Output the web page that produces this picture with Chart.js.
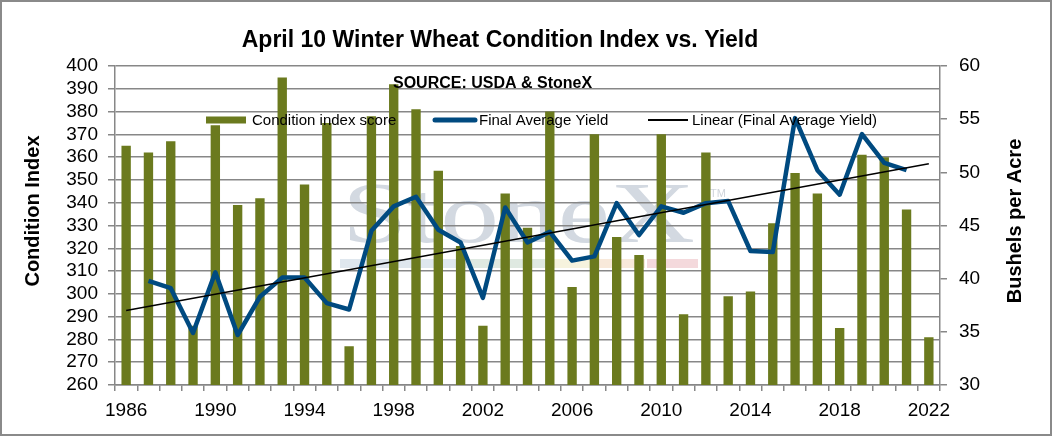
<!DOCTYPE html>
<html>
<head>
<meta charset="utf-8">
<title>April 10 Winter Wheat Condition Index vs. Yield</title>
<script src="https://cdn.jsdelivr.net/npm/chart.js@4.4.0/dist/chart.umd.min.js"></script>
<style>
    html, body { margin: 0; padding: 0; background: #fff; }
    canvas { display: block; }
</style>
</head>
<body>
<canvas id="graficoTrigo" width="1052" height="436"></canvas>
<script>
// Datos
const years = ['1986','1987','1988','1989','1990','1991','1992','1993','1994','1995',
               '1996','1997','1998','1999','2000','2001','2002','2003','2004','2005',
               '2006','2007','2008','2009','2010','2011','2012','2013','2014','2015',
               '2016','2017','2018','2019','2020','2021','2022'];

const conditionIndex = [365, 362, 367, 286, 374, 339, 342, 395, 348, 375,
                        277, 378, 392, 381, 354, 321, 286, 344, 329, 380,
                        303, 370, 325, 317, 370, 291, 362, 299, 301, 331,
                        353, 344, 285, 361, 360, 337, 281];

const yieldValues = [null, 39.8, 39.1, 34.9, 40.6, 34.7, 38.3, 40.1, 40.1, 37.7,
                     37.1, 44.5, 46.8, 47.7, 44.6, 43.4, 38.2, 46.7, 43.4, 44.4,
                     41.7, 42.1, 47.1, 44.1, 46.8, 46.2, 47.1, 47.3, 42.6, 42.5,
                     55.1, 50.2, 47.9, 53.6, 50.9, 50.2, null];

// extremos de la linea de tendencia (1986 y 2022)
const trendStart = 37.0;
const trendEnd = 50.8;

const indexTicks = { min: 260, max: 400, step: 10 };
const yieldTicks = { min: 30, max: 60, step: 5 };

const FUENTE = "'Liberation Sans', Arial, sans-serif";
const GRIS = '#878787';
const OLIVA = '#6b7a1e';
const AZUL = '#004a80';

// linea de tendencia: solo los dos extremos, el resto se une con spanGaps
const trendData = years.map(function(y, i) {
    if (i === 0) return trendStart;
    if (i === years.length - 1) return trendEnd;
    return null;
});

// Marca de agua "StoneX" y franja de colores, debajo de la cuadricula
const marcaAgua = {
    id: 'marcaAgua',
    beforeDraw(chart) {
        const ctx = chart.ctx;
        ctx.save();
        ctx.fillStyle = '#fff';
        ctx.fillRect(0, 0, chart.width, chart.height);

        ctx.font = "86px 'Liberation Serif', 'DejaVu Serif', serif";
        ctx.textBaseline = 'alphabetic';
        ctx.textAlign = 'left';
        const ancho = ctx.measureText('StoneX').width;
        ctx.translate(342, 242);
        ctx.scale(353 / ancho, 1);
        ctx.fillStyle = '#d3d9e1';
        ctx.fillText('StoneX', 0, 0);
        ctx.restore();

        ctx.save();
        ctx.font = "11px " + FUENTE;
        ctx.fillStyle = '#d0d5dc';
        ctx.fillText('TM', 710, 197);

        const franja = [
            [340, 470, '#dfe7ee'],
            [470, 546, '#dfe9e1'],
            [546, 594, '#f6f3de'],
            [594, 645, '#f8e9da'],
            [647, 698, '#f4d9dc']
        ];
        franja.forEach(function(f) {
            ctx.fillStyle = f[2];
            ctx.fillRect(f[0], 259, f[1] - f[0], 9);
        });
        ctx.restore();
    }
};

// Titulos, fuente, leyenda y marco
const textos = {
    id: 'textos',
    afterDraw(chart) {
        const ctx = chart.ctx;
        ctx.save();
        ctx.fillStyle = '#000';
        ctx.textBaseline = 'alphabetic';

        // titulo
        ctx.font = "bold 23px " + FUENTE;
        ctx.textAlign = 'center';
        ctx.fillText('April 10 Winter Wheat Condition Index vs. Yield', 500, 47);

        // fuente
        ctx.font = "bold 16px " + FUENTE;
        ctx.textAlign = 'left';
        ctx.fillText('SOURCE: USDA & StoneX', 393, 88);

        // leyenda
        ctx.font = "15px " + FUENTE;
        ctx.textBaseline = 'middle';
        ctx.fillStyle = OLIVA;
        ctx.fillRect(206, 116.5, 40, 7);
        ctx.fillStyle = '#000';
        ctx.fillText('Condition index score', 252, 121);

        ctx.strokeStyle = AZUL;
        ctx.lineWidth = 5;
        ctx.lineCap = 'round';
        ctx.beginPath();
        ctx.moveTo(435, 120);
        ctx.lineTo(475, 120);
        ctx.stroke();
        ctx.fillText('Final Average Yield', 479, 121);

        ctx.strokeStyle = '#000';
        ctx.lineWidth = 2;
        ctx.lineCap = 'butt';
        ctx.beginPath();
        ctx.moveTo(648, 120);
        ctx.lineTo(688, 120);
        ctx.stroke();
        ctx.fillText('Linear (Final Average Yield)', 692, 121);

        // titulos de ejes
        ctx.font = "bold 20px " + FUENTE;
        ctx.textAlign = 'center';
        ctx.save();
        ctx.translate(33, 211);
        ctx.rotate(-Math.PI / 2);
        ctx.fillText('Condition Index', 0, 0);
        ctx.restore();

        ctx.save();
        ctx.translate(1015, 221);
        ctx.rotate(-Math.PI / 2);
        ctx.fillText('Bushels per Acre', 0, 0);
        ctx.restore();

        // marco exterior
        ctx.strokeStyle = '#8a8a8a';
        ctx.lineWidth = 2;
        ctx.strokeRect(1, 1, chart.width - 2, chart.height - 2);
        ctx.restore();
    }
};

const ctx = document.getElementById('graficoTrigo').getContext('2d');

new Chart(ctx, {
    data: {
        labels: years,
        datasets: [
            {
                type: 'line',
                label: 'Linear (Final Average Yield)',
                data: trendData,
                yAxisID: 'yYield',
                borderColor: '#000',
                borderWidth: 1.5,
                pointRadius: 0,
                spanGaps: true,
                fill: false,
                order: 0
            },
            {
                type: 'line',
                label: 'Final Average Yield',
                data: yieldValues,
                yAxisID: 'yYield',
                borderColor: AZUL,
                borderWidth: 4.5,
                borderJoinStyle: 'round',
                pointRadius: 0,
                tension: 0,
                fill: false,
                order: 1
            },
            {
                type: 'bar',
                label: 'Condition index score',
                data: conditionIndex,
                yAxisID: 'yIndex',
                backgroundColor: OLIVA,
                barPercentage: 0.42,
                categoryPercentage: 1,
                order: 2
            }
        ]
    },
    options: {
        responsive: false,
        animation: false,
        devicePixelRatio: 1,
        layout: {
            padding: { top: 66, left: 0, right: 0, bottom: 0 }
        },
        plugins: {
            legend: { display: false },
            title: { display: false },
            tooltip: { enabled: false }
        },
        scales: {
            x: {
                type: 'category',
                offset: true,
                grid: {
                    offset: true,
                    drawOnChartArea: false,
                    color: GRIS,
                    lineWidth: 1.5,
                    tickLength: 6
                },
                border: { color: GRIS, width: 1.5 },
                ticks: {
                    autoSkip: false,
                    maxRotation: 0,
                    minRotation: 0,
                    padding: 8,
                    color: '#000',
                    font: { size: 19, family: FUENTE },
                    callback: function(value, index) {
                        return index % 4 === 0 ? years[index] : '';
                    }
                },
                afterFit: function(scale) { scale.height = 51; }
            },
            yIndex: {
                position: 'left',
                min: indexTicks.min,
                max: indexTicks.max,
                ticks: {
                    stepSize: indexTicks.step,
                    autoSkip: false,
                    padding: 10,
                    color: '#000',
                    font: { size: 19, family: FUENTE }
                },
                grid: { color: GRIS, lineWidth: 1.5, tickLength: 7 },
                border: { color: GRIS, width: 1.5 },
                afterFit: function(scale) { scale.width = 115; }
            },
            yYield: {
                position: 'right',
                min: yieldTicks.min,
                max: yieldTicks.max,
                ticks: {
                    stepSize: yieldTicks.step,
                    autoSkip: false,
                    padding: 12,
                    color: '#000',
                    font: { size: 19, family: FUENTE }
                },
                grid: { drawOnChartArea: false, color: GRIS, lineWidth: 1.5, tickLength: 7 },
                border: { color: GRIS, width: 1.5 },
                afterFit: function(scale) { scale.width = 112; }
            }
        }
    },
    plugins: [marcaAgua, textos]
});
</script>
</body>
</html>
